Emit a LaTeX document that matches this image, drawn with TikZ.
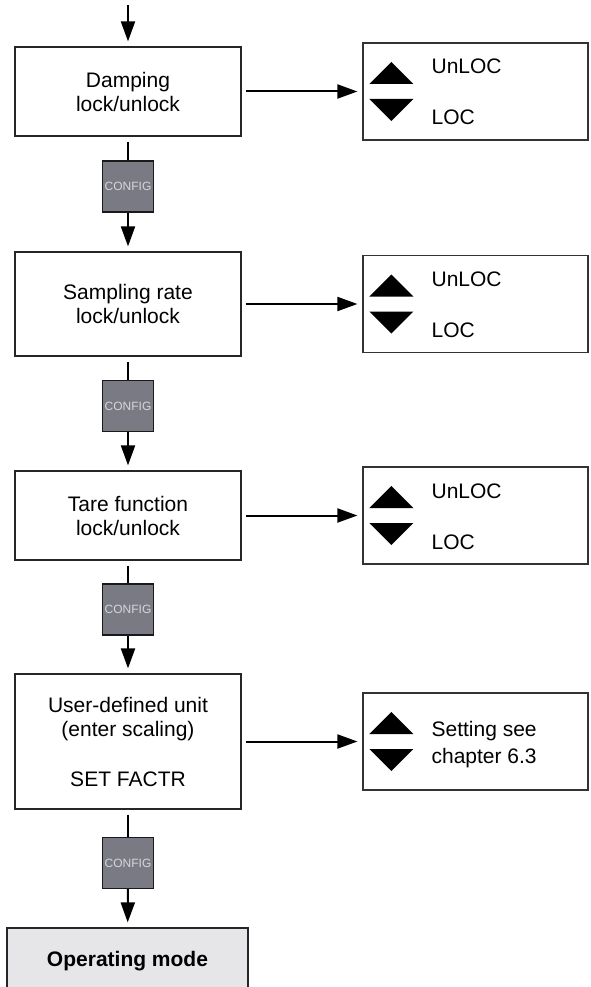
\documentclass[tikz,border=0pt]{standalone}
\usepackage{fontspec}
\setmainfont{Liberation Sans}
\usetikzlibrary{arrows.meta}
\definecolor{cfggray}{RGB}{122,122,132}
\definecolor{cfgtext}{RGB}{214,214,220}
\definecolor{opgray}{RGB}{230,230,232}
\begin{document}
\begin{tikzpicture}[x=1pt,y=-1pt,
        font=\fontsize{21}{24}\selectfont,
        box/.style={draw=black!85,line width=1.2pt,minimum width=226pt,inner sep=0pt,align=center},
        selbox/.style={draw=black!80,line width=1.2pt,minimum width=225pt,minimum height=97pt,inner sep=0pt},
        cfgkey/.style={draw=black!90,line width=1.2pt,fill=cfggray,minimum width=51pt,minimum height=51pt,
            inner sep=0pt,text=cfgtext,font=\fontsize{12}{13}\selectfont},
        link/.style={line width=2pt},
        flow/.style={line width=2pt,-{Triangle[length=20pt,width=14pt]}}]
                \clip (0,0) rectangle (591,987);
                %% left column
                \coordinate (top) at (128,5);
                \node[box,minimum height=89pt] (b1) at (128,91.5) {Damping\\lock/unlock};
                \node[box,minimum height=104pt] (b2) at (128,304) {Sampling rate\\lock/unlock};
                \node[box,minimum height=89pt] (b3) at (128,515.5) {Tare function\\lock/unlock};
                \node[box,minimum height=135pt] (b4) at (128,741.5) {User-defined unit\\(enter scaling)\\[26pt]SET FACTR};
                \node[box,fill=opgray,minimum width=241pt,minimum height=66pt,
                    font=\bfseries\fontsize{21}{24}\selectfont] (op) at (127.5,961) {Operating mode};
                %% config keys
                \node[cfgkey] (c1) at (128,186.5) {CONFIG};
                \node[cfgkey] (c2) at (128,406) {CONFIG};
                \node[cfgkey] (c3) at (128,609.5) {CONFIG};
                \node[cfgkey] (c4) at (128,863) {CONFIG};
                %% right column
                \node[selbox] (r1) at (475.5,91.5) {};
                \node[selbox] (r2) at (475.5,304) {};
                \node[selbox] (r3) at (475.5,515.5) {};
                \node[selbox] (r4) at (475.5,741.5) {};
                \foreach \r in {r1,r2,r3,r4}{
                    \fill ([shift={(7,-7.5)}]\r.west) -- ([shift={(51,-7.5)}]\r.west) -- ([shift={(29,-29.5)}]\r.west) -- cycle;
                    \fill ([shift={(7,7.5)}]\r.west) -- ([shift={(51,7.5)}]\r.west) -- ([shift={(29,29.5)}]\r.west) -- cycle;
                }
                \foreach \i in {1,2,3}{
                    \node[anchor=base west,inner sep=0pt] (u\i) at ([shift={(69,-17.5)}]r\i.west) {UnLOC};
                    \node[anchor=base west,inner sep=0pt] (l\i) at ([shift={(69,33.5)}]r\i.west) {LOC};
                }
                \node[anchor=west,inner sep=0pt,align=left,font=\fontsize{21}{27}\selectfont] (s4)
                    at ([shift={(69,3)}]r4.west) {Setting see\\chapter 6.3};
                %% arrows
                \draw[flow,shorten >=5pt] (top) -- (b1);
                \foreach \a/\b in {b1/c1,b2/c2,b3/c3,b4/c4}
                    \draw[link,shorten <=5pt] (\a) -- (\b);
                \foreach \a/\b in {c1/b2,c2/b3,c3/b4,c4/op}
                    \draw[flow,shorten >=5pt] (\a) -- (\b);
                \foreach \i in {1,...,4}
                    \draw[flow,shorten <=4pt,shorten >=5pt] (b\i) -- (r\i);
            \end{tikzpicture}
\end{document}
